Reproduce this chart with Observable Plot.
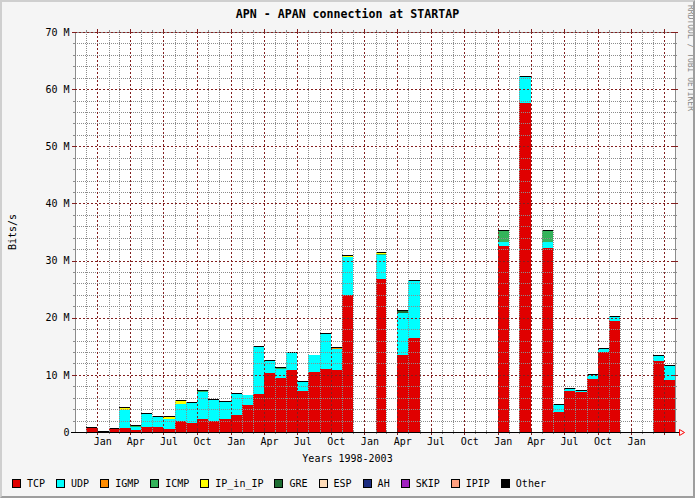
<!DOCTYPE html>
<html>
<head>
<meta charset="utf-8">
<script src="https://cdn.jsdelivr.net/npm/d3@7"></script>
<script src="https://cdn.jsdelivr.net/npm/@observablehq/plot@0.6"></script>
<style>
  html, body { margin: 0; padding: 0; background: #f5f5f5; }
  #wrap { position: relative; width: 695px; height: 498px; background: #f5f5f5; overflow: hidden;
          font-family: "DejaVu Sans Mono", monospace; color: #000; }
  #wrap svg { position: absolute; left: 0; top: 0; }
  #wrap svg line, #wrap svg rect { shape-rendering: crispEdges; }
  #shade { position: absolute; left: 0; top: 0; width: 695px; height: 498px; box-sizing: border-box;
           border-style: solid; border-width: 2px; border-color: #cfcfcf #9e9e9e #9e9e9e #cfcfcf; pointer-events: none; }
  .txt { position: absolute; white-space: nowrap; }
  #title { left: 0; width: 695px; top: 9.3px; text-align: center; font-weight: bold; font-size: 11.6px; line-height: 11.6px; }
  #xlabel { left: 0; width: 695px; top: 453.8px; text-align: center; font-size: 10px; line-height: 10px; }
  #ylabel { left: 12.5px; top: 232px; font-size: 10px; line-height: 10px; transform: translate(-50%, -50%) rotate(-90deg); }
  #credit { left: 693.7px; top: 5px; font-size: 8px; line-height: 8px; color: #8a8a8a; transform-origin: 0 0; transform: rotate(90deg); }
  #legend { position: absolute; left: 12px; top: 478.8px; display: flex; align-items: center; font-size: 10px; line-height: 10px; }
  .item { display: flex; align-items: center; margin-right: 11px; }
  .sw { width: 7px; height: 7px; border: 1px solid #000; margin-right: 6px; }
</style>
</head>
<body>
<div id="wrap">
  <div id="title" class="txt">APN - APAN connection at STARTAP</div>
  <div id="xlabel" class="txt">Years 1998-2003</div>
  <div id="ylabel" class="txt">Bits/s</div>
  <div id="credit" class="txt">RRDTOOL / TOBI OETIKER</div>
  <div id="legend"></div>
  <div id="shade"></div>
</div>
<script>
// ---- data (Mbit/s, monthly) ----
const protos = ["TCP", "UDP", "IGMP", "ICMP", "IP_in_IP", "GRE", "ESP", "AH", "SKIP", "IPIP", "Other"];
const colors = ["#e00000", "#00ffff", "#ff8c00", "#33b35a", "#ffff00", "#1e6e32", "#ffdcb8", "#1c2c80", "#a020c0", "#ffa080", "#000000"];

const months = [
  "1998-12",
  "1999-01", "1999-02", "1999-03", "1999-04", "1999-05", "1999-06", "1999-07", "1999-08", "1999-09", "1999-10", "1999-11", "1999-12",
  "2000-01", "2000-02", "2000-03", "2000-04", "2000-05", "2000-06", "2000-07", "2000-08", "2000-09", "2000-10", "2000-11",
  "2001-02", "2001-04", "2001-05",
  "2002-01", "2002-03", "2002-05", "2002-06", "2002-07", "2002-08", "2002-09", "2002-10", "2002-11",
  "2003-03", "2003-04"
];
const TCP = [0.64,
  0.03, 0.47, 0.76, 0.35, 0.87, 0.87, 0.53, 1.93, 1.50, 2.20, 2.00, 2.27,
  2.97, 4.70, 6.65, 10.4, 9.50, 10.9, 7.20, 10.55, 11.1, 10.9, 23.9,
  26.8, 13.4, 16.5,
  32.55, 57.6, 32.25, 3.55, 7.17, 7.00, 9.27, 14.05, 19.4,
  12.4, 9.10];
const UDP = [0,
  0, 0, 3.09, 0.55, 2.23, 1.70, 1.67, 3.03, 3.64, 4.80, 3.60, 3.03,
  3.63, 1.70, 8.15, 2.00, 1.60, 2.90, 1.55, 2.85, 6.00, 3.60, 6.70,
  4.20, 7.50, 10.0,
  0.75, 4.50, 1.05, 1.17, 0.35, 0.20, 0.70, 0.50, 0.70,
  0.95, 2.45];
const IGMP = [0,
  0, 0, 0, 0, 0, 0, 0, 0, 0, 0, 0, 0,
  0, 0, 0, 0, 0, 0, 0, 0, 0, 0.20, 0,
  0, 0, 0,
  0, 0, 0, 0, 0, 0, 0, 0, 0,
  0, 0];
const ICMP = [0,
  0, 0, 0, 0.15, 0, 0, 0, 0, 0, 0.20, 0, 0,
  0, 0, 0, 0, 0.15, 0, 0, 0, 0, 0, 0.10,
  0.15, 0, 0,
  1.90, 0, 1.85, 0, 0, 0, 0, 0, 0,
  0, 0];
const IP_in_IP = [0,
  0, 0, 0.40, 0, 0, 0.13, 0.37, 0.44, 0, 0, 0, 0,
  0, 0, 0, 0, 0, 0, 0, 0, 0, 0, 0.12,
  0.10, 0, 0,
  0, 0, 0, 0, 0, 0, 0, 0, 0,
  0, 0];
const GRE = [0,
  0, 0, 0, 0, 0, 0, 0, 0, 0, 0, 0, 0,
  0, 0, 0, 0, 0, 0, 0, 0, 0, 0, 0,
  0, 0.30, 0,
  0, 0, 0, 0, 0, 0, 0, 0, 0,
  0, 0];
const ESP = months.map(() => 0);
const AH = months.map(() => 0);
const SKIP = months.map(() => 0);
const IPIP = months.map(() => 0);
const Other = [0.18,
  0.12, 0.17, 0.17, 0.12, 0.15, 0.15, 0.15, 0.17, 0.15, 0.15, 0.17, 0.15,
  0.15, 0.15, 0.17, 0.15, 0.15, 0.15, 0.15, 0.15, 0.15, 0.15, 0.17,
  0.17, 0.17, 0.17,
  0.17, 0.20, 0.17, 0.17, 0.17, 0.17, 0.17, 0.17, 0.17,
  0.17, 0.17];
const yTicks = [0, 10, 20, 30, 40, 50, 60, 70];

// ---- build table ----
const series = {TCP, UDP, IGMP, ICMP, IP_in_IP, GRE, ESP, AH, SKIP, IPIP, Other};
const parseMonth = d3.utcParse("%Y-%m");
const table = [];
months.forEach((m, i) => {
  const x1 = parseMonth(m), x2 = d3.utcMonth.offset(x1, 1);
  protos.forEach(p => { const v = series[p][i]; if (v > 0) table.push({x1, x2, proto: p, value: v}); });
});

const start = new Date(Date.UTC(1998, 10, 1)), end = new Date(Date.UTC(2003, 4, 1));
const quarterTicks = d3.utcMonth.every(3).range(start, end);
const monthTicks = d3.utcMonth.range(d3.utcMonth.offset(start, 1), end).filter(d => d.getUTCMonth() % 3 !== 0);
const labelTicks = d3.utcMonth.every(3).range(start, d3.utcMonth.offset(end, -1));
const yMinor = d3.range(2, 70, 2).filter(v => v % 10 !== 0);
const yMajor = yTicks.filter(v => v > 0);

const GRID = "#8c8c8c", MGRID = "#821e1e";

const arrow = (index, scales, values, dim) => {
  const x0 = dim.width - dim.marginRight + 4.5, y0 = dim.height - dim.marginBottom + 0.5;
  return d3.create("svg:path")
    .attr("d", `M${x0},${y0 - 3}L${x0},${y0 + 3}L${x0 + 5},${y0}Z`)
    .attr("fill", "none").attr("stroke", "#ff0000").attr("stroke-width", 1).node();
};

const chart = Plot.plot({
  width: 695, height: 498,
  marginTop: 32, marginBottom: 66, marginLeft: 75, marginRight: 20,
  style: {background: "transparent", fontFamily: "DejaVu Sans Mono, monospace", fontSize: "10px", color: "#000", overflow: "visible"},
  x: {type: "utc", domain: [start, end]},
  y: {domain: [0, 70]},
  color: {domain: protos, range: colors},
  marks: [
    Plot.frame({fill: "#ffffff", stroke: null}),
    Plot.rectY(table, {x1: "x1", x2: "x2", y: "value", fill: "proto"}),
    // minor grid
    Plot.ruleY(yMinor, {stroke: GRID, strokeDasharray: "1,1"}),
    Plot.ruleX(monthTicks, {stroke: GRID, strokeDasharray: "1,1"}),
    Plot.ruleY(yMinor, {stroke: GRID, insetLeft: -2, insetRight: 599}),
    Plot.ruleY(yMinor, {stroke: GRID, insetLeft: 599, insetRight: -2}),
    Plot.ruleX(monthTicks, {stroke: GRID, insetTop: 399, insetBottom: -2}),
    Plot.ruleX(monthTicks, {stroke: GRID, insetTop: -2, insetBottom: 399}),
    // frame lines
    Plot.ruleY([70], {stroke: GRID}),
    Plot.ruleX([start], {stroke: GRID}),
    Plot.ruleX([end], {stroke: GRID}),
    // major grid
    Plot.ruleY(yMajor, {stroke: MGRID, strokeDasharray: "2,2"}),
    Plot.ruleX(quarterTicks, {stroke: MGRID, strokeDasharray: "2,2"}),
    Plot.ruleY(yTicks, {stroke: MGRID, insetLeft: -3, insetRight: 598}),
    Plot.ruleY(yMajor, {stroke: MGRID, insetLeft: 598, insetRight: -3}),
    Plot.ruleX(quarterTicks, {stroke: MGRID, insetTop: 398, insetBottom: -3}),
    Plot.ruleX(quarterTicks, {stroke: MGRID, insetTop: -3, insetBottom: 398}),
    // x axis line + arrow
    Plot.ruleY([0], {stroke: "#000", insetLeft: -4, insetRight: -4}),
    arrow,
    Plot.axisY({ticks: yTicks, tickFormat: d => d === 0 ? "0" : `${d} M`, tickSize: 0, tickPadding: 6, label: null, fontSize: 10}),
    Plot.axisX({ticks: labelTicks, tickFormat: d3.utcFormat("%b"), tickSize: 0, tickPadding: 5, dx: 5, label: null, fontSize: 10})
  ]
});
document.getElementById("wrap").prepend(chart);

// legend
const legend = d3.select("#legend");
protos.forEach((p, i) => {
  const it = legend.append("div").attr("class", "item");
  it.append("div").attr("class", "sw").style("background", colors[i]);
  it.append("span").text(p);
});
</script>
</body>
</html>
